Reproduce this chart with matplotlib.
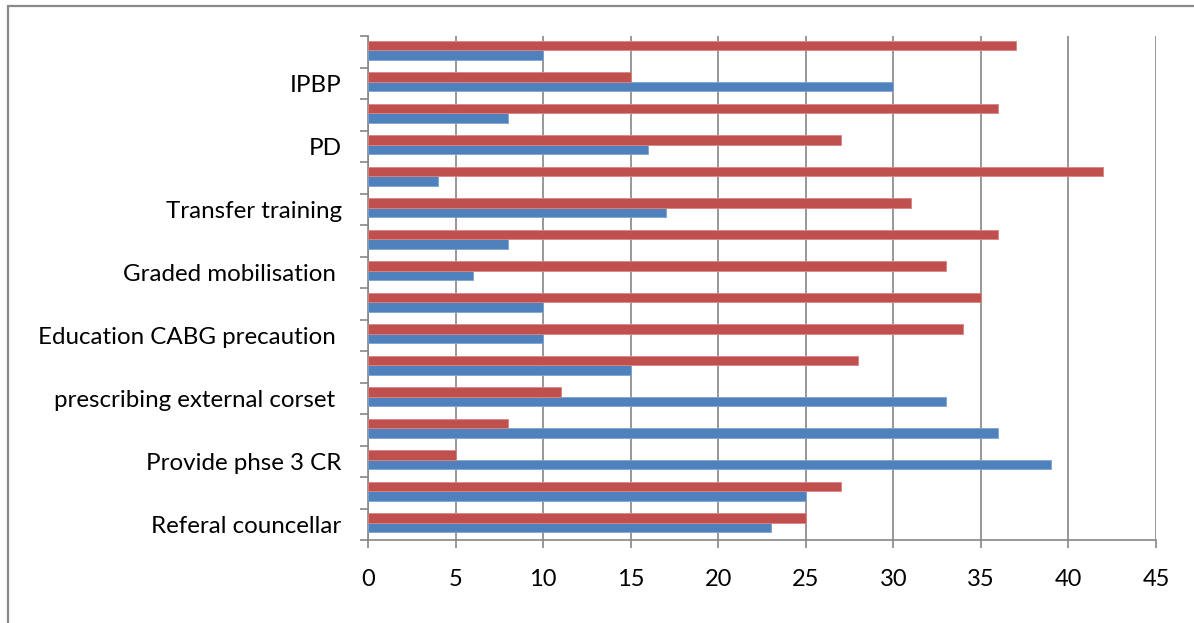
import matplotlib
matplotlib.use("Agg")
import matplotlib.pyplot as plt
from matplotlib.patches import Rectangle
import numpy as np

plt.rcParams['font.family'] = ['Lato', 'DejaVu Sans']

# Interventions, bottom to top (every other label is shown on the axis)
categories = [
    "Referal councellar", "",
    "Provide phse 3 CR", "",
    "prescribing external corset ", "",
    "Education CABG precaution ", "",
    "Graded mobilisation ", "",
    "Transfer training", "",
    "PD", "",
    "IPBP", "",
]
series_blue = [23, 25, 39, 36, 33, 15, 10, 10, 6, 8, 17, 4, 16, 8, 30, 10]
series_red = [25, 27, 5, 8, 11, 28, 34, 35, 33, 36, 31, 42, 27, 36, 15, 37]
x_ticks = [0, 5, 10, 15, 20, 25, 30, 35, 40, 45]

BLUE = "#4F81BD"
RED = "#C0504D"
GRID = "#868686"

fig = plt.figure(figsize=(11.94, 6.23), dpi=100)
fig.patch.set_facecolor("white")

# outer chart frame (continues past the right and bottom edges)
frame = Rectangle((8 / 1194, -0.2), 1.5, 1 - 6 / 623 + 0.2,
                  transform=fig.transFigure, fill=False,
                  edgecolor="#8A8A8A", linewidth=1.6, zorder=0)
fig.patches.append(frame)

ax = fig.add_axes([368 / 1194, 1 - 540 / 623, (1156 - 368) / 1194, (540 - 36) / 623])

y = np.arange(len(categories))
h = 0.3
ax.barh(y - h / 2 + 0.05, series_blue, height=h, color=BLUE,
        edgecolor="#7FA3D1", linewidth=0.6, zorder=3)
ax.barh(y + h / 2 + 0.05, series_red, height=h, color=RED,
        edgecolor="#D98482", linewidth=0.6, zorder=3)

ax.set_xlim(0, 45)
ax.set_ylim(-0.5, len(categories) - 0.5)

ax.set_xticks(x_ticks)
ax.set_xticklabels([str(v) for v in x_ticks])
ax.grid(axis="x", color=GRID, linewidth=1.2, zorder=1)
ax.set_axisbelow(True)

# category boundaries carry the tick marks, centres carry the labels
ax.set_yticks(np.arange(len(categories) + 1) - 0.5)
ax.set_yticklabels([])
ax.set_yticks(y, minor=True)
ax.set_yticklabels(categories, minor=True)

ax.tick_params(axis="y", which="major", length=6, width=1.2, color=GRID,
               direction="out")
ax.tick_params(axis="y", which="minor", length=0, pad=19, labelsize=17.4,
               labelcolor="black")
ax.tick_params(axis="x", length=6, width=1.2, color=GRID, direction="out",
               pad=15, labelsize=17, labelcolor="black")

for side in ("top", "right"):
    ax.spines[side].set_visible(False)
for side in ("left", "bottom"):
    ax.spines[side].set_color(GRID)
    ax.spines[side].set_linewidth(1.2)

fig.savefig("out.png", dpi=100, facecolor="white")
